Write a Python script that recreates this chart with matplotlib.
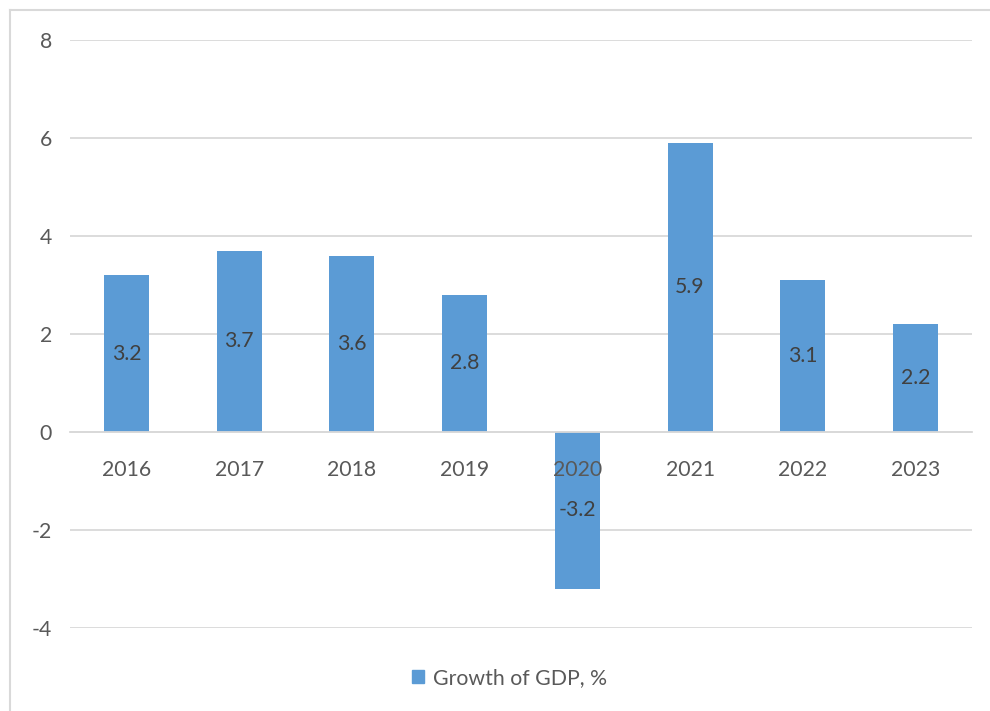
import matplotlib.pyplot as plt
from matplotlib.lines import Line2D
from matplotlib.patches import Patch

# GDP growth by year
years = ['2016', '2017', '2018', '2019', '2020', '2021', '2022', '2023']
growth = [3.2, 3.7, 3.6, 2.8, -3.2, 5.9, 3.1, 2.2]
y_ticks = [-4, -2, 0, 2, 4, 6, 8]

bar_color = '#5B9BD5'
grid_color = '#D9D9D9'
text_color = '#595959'

plt.rcParams['font.family'] = ['Lato', 'DejaVu Sans']

fig = plt.figure(figsize=(9.9, 7.11), dpi=100)
ax = fig.add_axes([70 / 990, 1 - 628 / 711, 902 / 990, 588 / 711])

x = range(len(years))
bars = ax.bar(x, growth, width=0.4, color=bar_color, zorder=2)

# value labels in the middle of each bar
for b, v in zip(bars, growth):
    ax.text(b.get_x() + b.get_width() / 2, v / 2, f'{v:.1f}',
            ha='center', va='center', fontsize=15.3, color='#404040', zorder=4)

ax.set_xlim(-0.5, len(years) - 0.5)
ax.set_ylim(-4, 8)
ax.set_yticks(y_ticks)
ax.set_yticklabels([str(t) for t in y_ticks])
ax.set_xticks(list(x))
ax.set_xticklabels(years)

ax.grid(axis='y', color=grid_color, linewidth=1.3)
ax.set_axisbelow(True)
ax.xaxis.set_zorder(5)  # year labels sit on top of the negative bar
for s in ['top', 'right', 'left']:
    ax.spines[s].set_visible(False)
ax.spines['bottom'].set_position(('data', 0))
ax.spines['bottom'].set_color(grid_color)
ax.spines['bottom'].set_linewidth(1.3)
ax.tick_params(axis='both', length=0, labelsize=15.3, colors=text_color)
ax.tick_params(axis='y', pad=13)
ax.tick_params(axis='x', pad=20)

fig.legend(handles=[Patch(color=bar_color, label='Growth of GDP, %')],
           loc='center', bbox_to_anchor=(0.515, 1 - 678 / 711), frameon=False,
           fontsize=15.3, labelcolor=text_color, handlelength=0.55, handleheight=0.55,
           handletextpad=0.45)

# chart area outline (top and left edges)
fig.add_artist(Line2D([10 / 990, 1], [1 - 10 / 711] * 2, transform=fig.transFigure,
                      color=grid_color, linewidth=1.5))
fig.add_artist(Line2D([10 / 990] * 2, [0, 1 - 10 / 711], transform=fig.transFigure,
                      color=grid_color, linewidth=1.5))

fig.savefig('out.png', dpi=100)
